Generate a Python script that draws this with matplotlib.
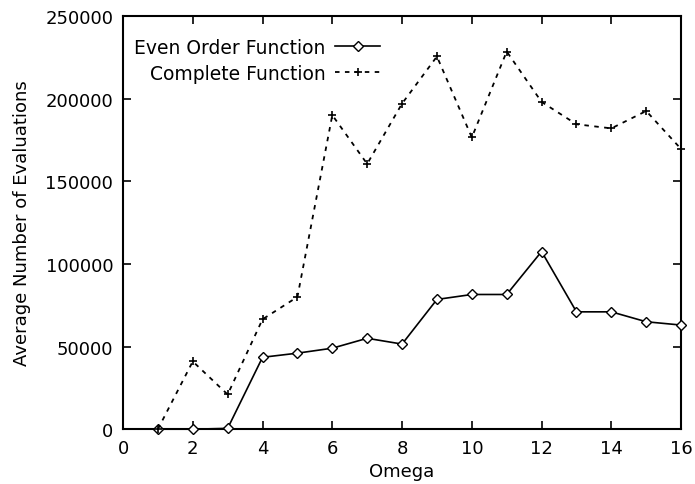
import matplotlib
matplotlib.use("Agg")
import matplotlib.pyplot as plt

omega = [1, 2, 3, 4, 5, 6, 7, 8, 9, 10, 11, 12, 13, 14, 15, 16]
even_order = [0, 0, 500, 43500, 46000, 49000, 55000, 51500, 78500, 81500,
              81500, 107500, 71000, 71000, 65000, 63000]
complete = [0, 41000, 21000, 66500, 80000, 190000, 160500, 197000, 225500,
            176500, 228500, 198000, 184500, 182000, 192500, 169500]

x_ticks = list(range(0, 17, 2))
y_ticks = list(range(0, 250001, 50000))

plt.rcParams['font.family'] = ['DejaVu Sans']
plt.rcParams['font.size'] = 13

fig = plt.figure(figsize=(6.95, 4.85), dpi=100)
ax = fig.add_axes([0.177, 0.113, 0.803, 0.852])

ax.plot(omega, even_order, color='black', lw=1.2, marker='D', ms=5.5,
        mfc='white', mec='black', mew=1.0, label='Even Order Function',
        clip_on=False, zorder=3)
ax.plot(omega, complete, color='black', lw=1.3, ls=(0, (2.5, 3)), marker='+',
        ms=6, mew=1.2, label='Complete Function', clip_on=False, zorder=3)

ax.set_xlim(0, 16)
ax.set_ylim(0, 250000)
ax.set_xticks(x_ticks)
ax.set_yticks(y_ticks)
ax.tick_params(direction='in', top=True, right=True, length=6, width=1.2, pad=7)
for s in ax.spines.values():
    s.set_linewidth(1.5)

ax.set_xlabel('Omega', labelpad=4)
ax.set_ylabel('Average Number of Evaluations', labelpad=10)

ax.legend(loc='upper left', bbox_to_anchor=(0.0, 0.975), frameon=False,
          markerfirst=False, handlelength=2.4, handletextpad=0.5,
          labelspacing=0.4, borderaxespad=0.2, prop={'size': 13.5})

fig.savefig('out.png', dpi=100)
